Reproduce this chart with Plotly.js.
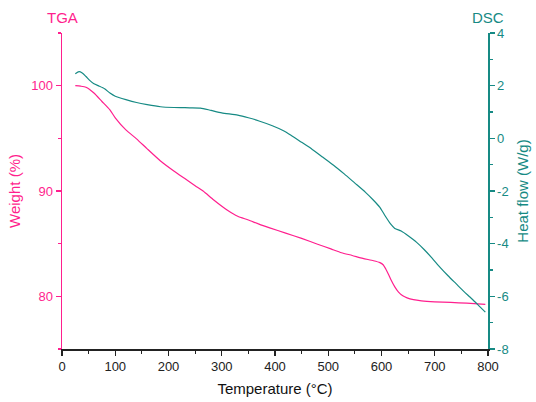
<!DOCTYPE html>
<html><head><meta charset="utf-8">
<script src="https://cdn.plot.ly/plotly-3.0.1.min.js"></script>
<style>html,body{margin:0;padding:0;background:#fff}#c{width:536px;height:402px}</style>
</head><body><div id="c"></div>
<script>
const tgaTemp = [25,35,45,60,75,90,100,120,140,160,185,210,230,250,265,285,310,330,350,370,390,420,450,480,505,525,545,565,585,597,603,608,613,618,625,632,640,648,660,675,700,730,760,795];
const tgaWeight = [100,99.95,99.85,99.3,98.5,97.7,96.95,95.8,94.95,94.0,92.85,91.9,91.2,90.5,90.0,89.15,88.2,87.6,87.25,86.85,86.5,86.0,85.5,84.95,84.5,84.14,83.88,83.6,83.38,83.2,83.0,82.6,82.1,81.55,80.9,80.4,80.05,79.85,79.68,79.57,79.48,79.42,79.35,79.24];
const dscTemp = [25,32,38,45,52,60,70,80,90,100,120,140,160,185,210,240,260,280,300,330,350,370,395,415,430,450,470,490,510,530,550,570,585,597,607,617,625,637,650,666,680,695,710,725,740,755,770,785,795];
const dscHeat = [2.45,2.53,2.48,2.35,2.2,2.07,1.98,1.88,1.72,1.6,1.47,1.36,1.28,1.2,1.17,1.16,1.15,1.06,0.97,0.88,0.78,0.66,0.48,0.3,0.12,-0.15,-0.42,-0.72,-1.02,-1.35,-1.7,-2.05,-2.35,-2.62,-2.95,-3.25,-3.42,-3.52,-3.7,-3.95,-4.22,-4.55,-4.9,-5.22,-5.52,-5.82,-6.1,-6.4,-6.6];
const weightTicks = [80, 90, 100];
const heatTicks = [-8, -6, -4, -2, 0, 2, 4];
const heatTickText = ['-8', '-6', '-4', '-2', '0', '2', '4'];

const PINK = '#ff1f8e';
const TEAL = '#168a84';
const FONT = 'Liberation Sans, Arial, sans-serif';

const data = [
  {x: tgaTemp, y: tgaWeight, type: 'scatter', mode: 'lines', line: {color: PINK, width: 1.2, shape: 'spline', smoothing: 0.6}, yaxis: 'y', hoverinfo: 'skip'},
  {x: dscTemp, y: dscHeat, type: 'scatter', mode: 'lines', line: {color: TEAL, width: 1.2, shape: 'spline', smoothing: 0.6}, yaxis: 'y2', hoverinfo: 'skip'}
];

const layout = {
  width: 536, height: 402,
  margin: {l: 62, r: 48, t: 33, b: 53},
  paper_bgcolor: '#fff', plot_bgcolor: '#fff',
  showlegend: false,
  font: {family: FONT, size: 13, color: '#222'},
  xaxis: {
    range: [0, 800], dtick: 100, tick0: 0,
    showgrid: false, zeroline: false,
    showline: true, linecolor: '#222', linewidth: 1.5,
    ticks: 'outside', ticklen: 5, tickwidth: 1.2, tickcolor: '#222',
    minor: {dtick: 50, ticks: 'outside', ticklen: 3, tickcolor: '#222', tickwidth: 1.2},
    tickfont: {family: FONT, size: 13, color: '#222'},
    title: {text: 'Temperature (°C)', font: {family: FONT, size: 15, color: '#111'}, standoff: 10},
    automargin: false
  },
  yaxis: {
    range: [75, 105], tickvals: weightTicks,
    showgrid: false, zeroline: false,
    showline: true, linecolor: PINK, linewidth: 1.5,
    ticks: 'outside', ticklen: 5, tickwidth: 1.2, tickcolor: PINK,
    minor: {tickvals: [75, 85, 95, 105], ticks: 'outside', ticklen: 3, tickcolor: PINK, tickwidth: 1.2},
    tickfont: {family: FONT, size: 13, color: PINK},
    title: {text: 'Weight (%)', font: {family: FONT, size: 15, color: PINK}, standoff: 7},
    automargin: false
  },
  yaxis2: {
    range: [-8, 4], tickvals: heatTicks, ticktext: heatTickText, overlaying: 'y', side: 'right',
    showgrid: false, zeroline: false,
    showline: true, linecolor: TEAL, linewidth: 1.5,
    ticks: 'outside', ticklen: 5, tickwidth: 1.2, tickcolor: TEAL,
    minor: {dtick: 1, ticks: 'outside', ticklen: 3, tickcolor: TEAL, tickwidth: 1.2},
    tickfont: {family: FONT, size: 13, color: TEAL},
    title: {text: 'Heat flow (W/g)', font: {family: FONT, size: 15, color: TEAL}, standoff: 10},
    automargin: false
  },
  annotations: [
    {text: 'TGA', xref: 'paper', yref: 'paper', x: 0, y: 1, xanchor: 'center', yanchor: 'bottom', yshift: 5, showarrow: false, font: {family: FONT, size: 15, color: PINK}},
    {text: 'DSC', xref: 'paper', yref: 'paper', x: 1, y: 1, xanchor: 'center', yanchor: 'bottom', yshift: 5, showarrow: false, font: {family: FONT, size: 15, color: TEAL}}
  ]
};

Plotly.newPlot('c', data, layout, {displayModeBar: false, staticPlot: true});
</script>
</body></html>
